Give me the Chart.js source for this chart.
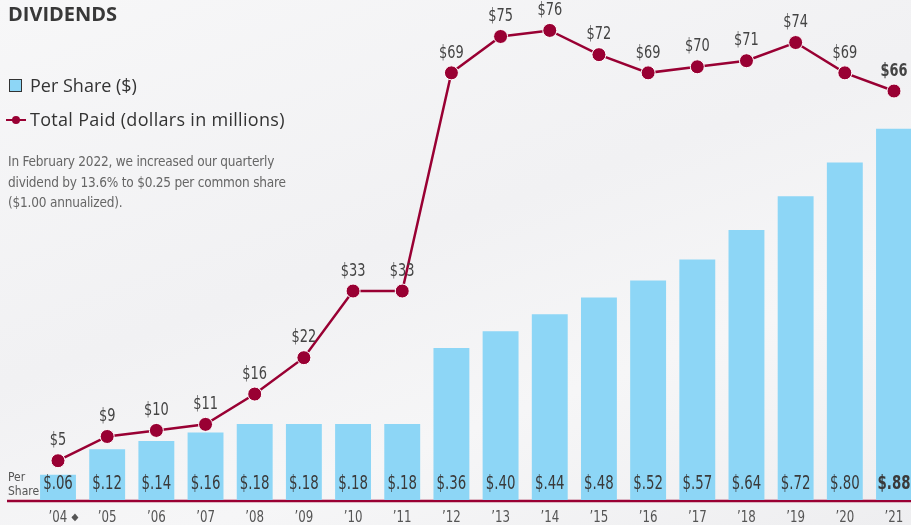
<!DOCTYPE html>
<html>
<head>
<meta charset="utf-8">
<script src="https://cdn.jsdelivr.net/npm/chart.js@4.4.1/dist/chart.umd.min.js"></script>
<style>
    html, body { margin: 0; padding: 0; }
    body {
        width: 911px; height: 525px; overflow: hidden; position: relative;
        background: linear-gradient(160deg, #f7f7f8 0%, #f1f1f3 45%, #f6f6f7 70%, #eeeef0 100%);
        font-family: 'Open Sans', sans-serif;
    }
    #wrap { position: absolute; left: 0; top: 0; width: 911px; height: 525px; }
    .title { position: absolute; left: 8px; top: 0px; font-size: 20px; font-weight: 700; color: #383838; }
    .leg { position: absolute; left: 30px; font-size: 18px; color: #333; }
    .swatch { position: absolute; left: 9px; top: 79px; width: 11px; height: 11px; background: #8dd6f6; border: 1px solid #333; }
    .dash { position: absolute; left: 6px; top: 119px; width: 20px; height: 2px; background: #990033; }
    .dot { position: absolute; left: 12px; top: 116px; width: 8px; height: 8px; border-radius: 50%; background: #990033; }
    .note { position: absolute; left: 8px; top: 151px; font-size: 13.5px; line-height: 20.5px; color: #666; font-family: 'DejaVu Sans Condensed', sans-serif; letter-spacing: -0.2px; }
    .per { position: absolute; left: 8px; top: 470px; font-size: 12px; line-height: 14px; color: #555; font-family: 'DejaVu Sans Condensed', sans-serif; }
</style>
</head>
<body>
<div id="wrap"><canvas id="dividendsChart"></canvas></div>
<div class="title">DIVIDENDS</div>
<div class="swatch"></div>
<div class="leg" style="top: 73px;">Per Share ($)</div>
<div class="dash"></div><div class="dot"></div>
<div class="leg" style="top: 107px; letter-spacing: 0.3px;">Total Paid (dollars in millions)</div>
<div class="note">In February 2022, we increased our quarterly<br>dividend by 13.6% to $0.25 per common share<br>($1.00 annualized).</div>
<div class="per">Per<br>Share</div>
<script>
// Dividends
const years = ['\u201904', '\u201905', '\u201906', '\u201907', '\u201908', '\u201909', '\u201910', '\u201911', '\u201912',
    '\u201913', '\u201914', '\u201915', '\u201916', '\u201917', '\u201918', '\u201919', '\u201920', '\u201921'];
const perShare = [0.06, 0.12, 0.14, 0.16, 0.18, 0.18, 0.18, 0.18, 0.36, 0.40, 0.44, 0.48, 0.52, 0.57, 0.64, 0.72, 0.80, 0.88];
const totalPaid = [5, 9, 10, 11, 16, 22, 33, 33, 69, 75, 76, 72, 69, 70, 71, 74, 69, 66];

const narrow = "'DejaVu Sans Condensed', sans-serif";
const crimson = '#990033';

// condensed text: squeeze horizontally
function drawNarrow(ctx, text, x, y, squeeze) {
    ctx.save();
    ctx.translate(x, y);
    ctx.scale(squeeze, 1);
    ctx.fillText(text, 0, 0);
    ctx.restore();
}

const labelsPlugin = {
    id: 'labels',
    beforeDatasetsDraw(chart) {
        const ctx = chart.ctx;
        const y = chart.chartArea.bottom + 1;
        ctx.save();
        ctx.strokeStyle = crimson;
        ctx.lineWidth = 2.5;
        ctx.beginPath();
        ctx.moveTo(7, y);
        ctx.lineTo(911, y);
        ctx.stroke();
        ctx.restore();
    },
    afterDatasetsDraw(chart) {
        const ctx = chart.ctx;
        const xScale = chart.scales.x;
        const bottom = chart.chartArea.bottom;
        const last = perShare.length - 1;
        ctx.save();
        ctx.textAlign = 'center';
        ctx.textBaseline = 'middle';
        ctx.fillStyle = '#3a3a3a';
        chart.getDatasetMeta(0).data.forEach((bar, i) => {
            ctx.font = (i === last ? 'bold ' : '') + '19px ' + narrow;
            drawNarrow(ctx, '$' + perShare[i].toFixed(2).slice(1), bar.x, bottom - 16, 0.78);
        });
        ctx.fillStyle = '#444';
        chart.getDatasetMeta(1).data.forEach((pt, i) => {
            ctx.font = (i === last ? 'bold ' : '') + '18px ' + narrow;
            drawNarrow(ctx, '$' + totalPaid[i], pt.x, pt.y - 20, 0.8);
        });
        // year labels under the axis
        ctx.fillStyle = '#555';
        years.forEach((yr, i) => {
            const x = xScale.getPixelForTick(i);
            ctx.font = '16px ' + narrow;
            drawNarrow(ctx, yr, x, bottom + 18, 0.82);
            if (i === 0) {
                ctx.font = '10px ' + narrow;
                ctx.fillText('\u25C6', x + 17, bottom + 17);
            }
        });
        ctx.restore();
    }
};

new Chart(document.getElementById('dividendsChart').getContext('2d'), {
    data: {
        labels: years,
        datasets: [{
            type: 'bar',
            label: 'Per Share ($)',
            data: perShare,
            backgroundColor: '#8dd6f6',
            barPercentage: 0.73,
            categoryPercentage: 1,
            yAxisID: 'y',
            clip: false,
            order: 2
        }, {
            type: 'line',
            label: 'Total Paid (dollars in millions)',
            data: totalPaid,
            borderColor: crimson,
            borderWidth: 2.5,
            pointBackgroundColor: crimson,
            pointBorderColor: '#ffffff',
            pointBorderWidth: 1,
            pointRadius: 7,
            tension: 0,
            yAxisID: 'y2',
            clip: false,
            order: 1
        }]
    },
    options: {
        responsive: true,
        maintainAspectRatio: false,
        animation: false,
        layout: { padding: { left: 58, right: 17, top: 0, bottom: 25 } },
        plugins: { legend: { display: false }, tooltip: { enabled: false } },
        scales: {
            x: { display: false, offset: false },
            y: { display: false, min: 0, max: 1.166 },
            y2: { display: false, min: -1.48, max: 79.7 }
        }
    },
    plugins: [labelsPlugin]
});
</script>
</body>
</html>
